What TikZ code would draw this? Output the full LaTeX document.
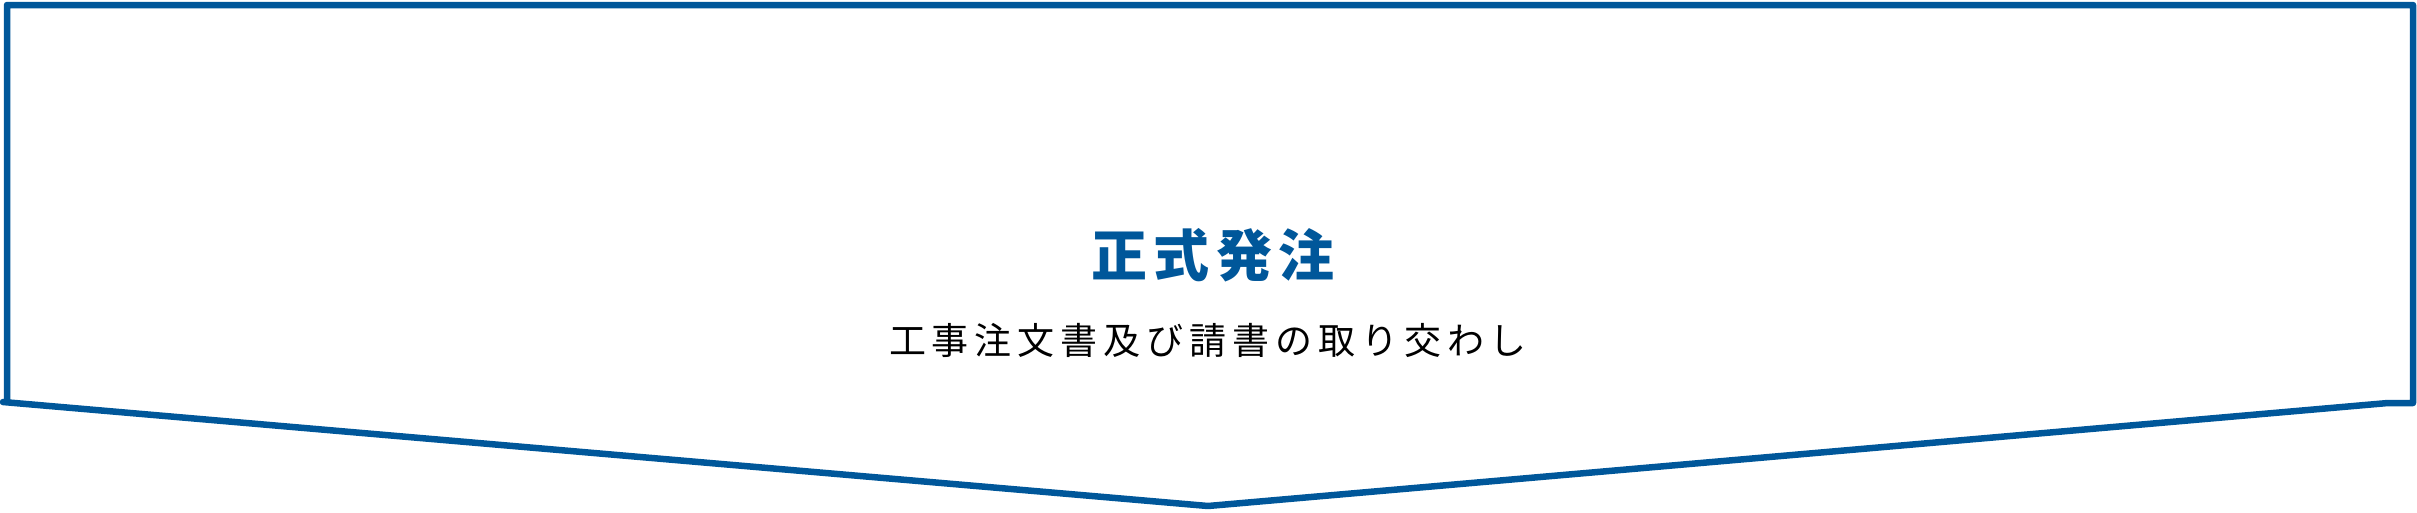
\documentclass[tikz,border=0pt]{standalone}
\usepackage{fontspec}
\newfontfamily\cjk{Noto Sans CJK JP}
\definecolor{orderblue}{RGB}{0,87,154}
\tikzset{
  arrowbox/.style={draw=orderblue,line width=6.5pt,line join=round,fill=white},
  titletext/.style={text=orderblue,font={\cjk\bfseries\fontsize{56}{60}\selectfont\addfontfeature{LetterSpace=11}},inner sep=0pt},
  subtext/.style={text=black,font={\cjk\fontsize{37}{40}\selectfont\addfontfeature{LetterSpace=16}},inner sep=0pt}
}
\begin{document}
\begin{tikzpicture}[x=1pt,y=-1pt]
  \useasboundingbox (0,0) rectangle (2417,512);
  \draw[arrowbox] (7,5) -- (2413,5) -- (2413,403) -- (2388,403) -- (1208,506) -- (3,402) -- (7,402) -- cycle;
  %
  \node[titletext] (title) at (1213,255) {正式発注};
  \node[subtext] (sub) at (1208,340) {工事注文書及び請書の取り交わし};
\end{tikzpicture}
\end{document}
